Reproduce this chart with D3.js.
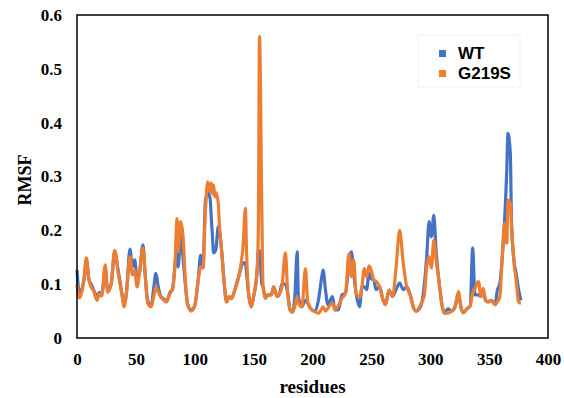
<!DOCTYPE html>
<html><head><meta charset="utf-8">
<script src="https://cdn.jsdelivr.net/npm/d3@7/dist/d3.min.js"></script>
<style>body{margin:0;background:#fff;}svg{display:block;}</style>
</head><body>
<svg id="chart" width="564" height="398"></svg>
<script>
const residues = [0,2,4,6,8,10,12,14,17,19,21,24,26,29,32,35,38,40,42,45,47,49,51,53,56,58,60,63,65,67,69,71,74,76,79,81,83,85,86,88,90,92,94,97,100,103,105,107,109,111,113,114,115,116,117,118,120,121,123,125,127,129,131,134,136,138,141,143,144,146,148,150,153,154,155,157,158,160,162,165,167,170,172,174,177,179,181,183,185,187,188,191,194,196,198,202,205,208,209,211,213,217,219,222,225,228,231,233,235,237,240,242,244,246,248,250,252,254,257,260,262,265,268,271,274,277,280,283,286,288,291,293,295,297,299,301,303,305,308,310,312,315,318,321,324,326,328,331,334,336,338,341,343,345,347,349,352,355,357,359,361,363,365,366,368,369,371,373,375,377];
const wt = [0.126,0.085,0.09,0.11,0.145,0.11,0.10,0.09,0.077,0.085,0.08,0.13,0.09,0.10,0.16,0.125,0.085,0.062,0.085,0.165,0.132,0.145,0.11,0.12,0.173,0.115,0.07,0.06,0.09,0.12,0.095,0.078,0.072,0.068,0.085,0.09,0.13,0.175,0.132,0.2,0.15,0.1,0.062,0.052,0.06,0.11,0.154,0.13,0.253,0.27,0.26,0.225,0.19,0.158,0.16,0.165,0.207,0.2,0.158,0.102,0.067,0.077,0.073,0.089,0.105,0.12,0.139,0.14,0.12,0.077,0.058,0.077,0.126,0.163,0.163,0.1,0.095,0.074,0.08,0.08,0.095,0.077,0.082,0.1,0.1,0.082,0.052,0.048,0.077,0.16,0.077,0.058,0.07,0.065,0.056,0.05,0.07,0.115,0.126,0.09,0.062,0.077,0.052,0.052,0.08,0.083,0.14,0.16,0.12,0.083,0.058,0.095,0.095,0.09,0.12,0.11,0.108,0.09,0.095,0.07,0.062,0.089,0.077,0.09,0.102,0.09,0.095,0.08,0.055,0.05,0.055,0.067,0.1,0.151,0.216,0.188,0.228,0.16,0.095,0.061,0.046,0.054,0.05,0.058,0.08,0.058,0.047,0.054,0.06,0.167,0.08,0.08,0.077,0.085,0.07,0.067,0.07,0.062,0.089,0.1,0.145,0.213,0.312,0.38,0.343,0.219,0.145,0.12,0.09,0.07];
const g219s = [0.10,0.075,0.085,0.11,0.149,0.11,0.095,0.088,0.07,0.082,0.078,0.136,0.085,0.10,0.163,0.12,0.083,0.058,0.083,0.151,0.117,0.126,0.095,0.12,0.167,0.114,0.065,0.058,0.075,0.095,0.085,0.077,0.07,0.067,0.083,0.09,0.126,0.222,0.16,0.216,0.19,0.108,0.061,0.05,0.06,0.108,0.132,0.13,0.232,0.29,0.272,0.288,0.268,0.284,0.262,0.27,0.25,0.207,0.158,0.102,0.067,0.077,0.073,0.089,0.102,0.12,0.17,0.241,0.16,0.077,0.058,0.077,0.126,0.2,0.56,0.23,0.095,0.074,0.08,0.08,0.095,0.077,0.082,0.095,0.158,0.082,0.052,0.048,0.058,0.077,0.065,0.058,0.129,0.065,0.056,0.049,0.046,0.055,0.058,0.05,0.055,0.065,0.052,0.06,0.074,0.083,0.157,0.114,0.145,0.083,0.076,0.095,0.129,0.114,0.134,0.125,0.108,0.105,0.095,0.07,0.062,0.089,0.077,0.132,0.2,0.14,0.095,0.08,0.055,0.05,0.058,0.067,0.08,0.132,0.151,0.13,0.182,0.145,0.095,0.061,0.046,0.046,0.05,0.058,0.086,0.058,0.047,0.054,0.06,0.083,0.092,0.105,0.077,0.092,0.07,0.067,0.07,0.062,0.067,0.075,0.145,0.213,0.176,0.256,0.25,0.207,0.145,0.106,0.067,0.064];
const xTicks = [0,50,100,150,200,250,300,350,400];
const yTicks = [0,0.1,0.2,0.3,0.4,0.5,0.6];
const seriesNames = ["WT","G219S"];
const colors = ["#4472C4","#ED7D31"];

const svg = d3.select("#chart");
const L = 77, R = 548, T = 15, B = 338;
const x = d3.scaleLinear().domain([0,400]).range([L,R]);
const y = d3.scaleLinear().domain([0,0.6]).range([B,T]);

const serif = "'Liberation Serif','Times New Roman',serif";

const yAxis = svg.append("g").attr("transform",`translate(${L},0)`)
  .call(d3.axisLeft(y).tickValues(yTicks).tickSize(0).tickPadding(15).tickFormat(d=>d===0?"0":d3.format(".1f")(d)));
yAxis.select(".domain").remove();
yAxis.selectAll("text").attr("font-family",serif).attr("font-weight","bold").attr("font-size",17).attr("fill","#000");

const xAxis = svg.append("g").attr("transform",`translate(0,${B})`)
  .call(d3.axisBottom(x).tickValues(xTicks).tickSize(0).tickPadding(15).tickFormat(d3.format("d")));
xAxis.select(".domain").remove();
xAxis.selectAll("text").attr("font-family",serif).attr("font-weight","bold").attr("font-size",17).attr("fill","#000");

const data = [wt, g219s];
const line = d3.line().x((d,i)=>x(residues[i])).y(d=>y(d)).curve(d3.curveMonotoneX);
data.forEach((s,k)=>{
  svg.append("path").datum(s).attr("d",line).attr("fill","none")
    .attr("stroke",colors[k]).attr("stroke-width",3.2).attr("stroke-linejoin","round");
});

svg.append("rect").attr("x",L).attr("y",T).attr("width",R-L).attr("height",B-T)
  .attr("fill","none").attr("stroke","#000").attr("stroke-width",1.5);

svg.append("text").attr("x",(L+R)/2).attr("y",393).attr("text-anchor","middle")
  .attr("font-family",serif).attr("font-weight","bold").attr("font-size",19).text("residues");
svg.append("text").attr("transform","translate(31,180) rotate(-90)").attr("text-anchor","middle")
  .attr("font-family",serif).attr("font-weight","bold").attr("font-size",18).text("RMSF");

const lg = svg.append("g");
lg.append("rect").attr("x",418).attr("y",35).attr("width",102).attr("height",52).attr("fill","none").attr("stroke","#f2f2f2");
seriesNames.forEach((n,i)=>{
  lg.append("rect").attr("x",439).attr("y",50+i*20).attr("width",7).attr("height",7).attr("fill",colors[i]);
  lg.append("text").attr("x",458).attr("y",59+i*20).attr("font-family","'Liberation Sans',Arial,sans-serif")
    .attr("font-weight","bold").attr("font-size",17).text(n);
});
</script>
</body></html>
